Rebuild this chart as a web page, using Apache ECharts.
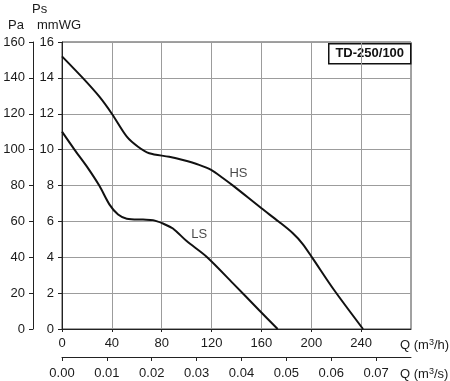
<!DOCTYPE html>
<html>
<head>
<meta charset="utf-8">
<script src="https://cdn.jsdelivr.net/npm/echarts@6/dist/echarts.min.js"></script>
<style>
html,body{margin:0;padding:0;background:#fff;}
#c{width:450px;height:381px;}
</style>
</head>
<body>
<div id="c"></div>
<script>
// Tick labels
const flowTicksH = [0, 40, 80, 120, 160, 200, 240];
const flowTicksS = [0.00, 0.01, 0.02, 0.03, 0.04, 0.05, 0.06, 0.07];
const mmTicks = [0, 2, 4, 6, 8, 10, 12, 14, 16];
const paTicks = [0, 20, 40, 60, 80, 100, 120, 140, 160];

// HS curve: flow (m3/h), pressure (mmWG)
const hsFlow = [0, 17, 30, 40, 52, 61, 70, 86, 97, 110, 120, 129, 138, 160, 174, 185, 193, 201, 218, 241.5];
const hsPs   = [15.2, 13.97, 12.95, 12.0, 10.72, 10.16, 9.8, 9.6, 9.42, 9.15, 8.86, 8.42, 7.95, 6.73, 5.98, 5.35, 4.75, 3.95, 2.2, 0];

// LS curve
const lsFlow = [0, 10, 20, 30, 38, 45, 52, 65, 73, 81, 89, 100, 116, 137, 158, 173];
const lsPs   = [11.0, 10.0, 9.05, 7.98, 6.95, 6.38, 6.15, 6.1, 6.07, 5.88, 5.6, 4.9, 4.03, 2.56, 1.06, 0];

// Curve labels
const curveLabels = [
  { name: 'HS', flow: 141.6, ps: 8.67 },
  { name: 'LS', flow: 110, ps: 5.27 }
];
const modelName = 'TD-250/100';

const FONT = '"Liberation Sans", Arial, sans-serif';
const TXT = '#1a1a1a';

const zip = (a, b) => a.map((v, i) => [v, b[i]]);

const chart = echarts.init(document.getElementById('c'), null, { renderer: 'canvas' });

const supRich = { sup: { fontSize: 9, verticalAlign: 'top', padding: [0, 0, 6, 0], fontFamily: FONT, fill: TXT, color: TXT } };

chart.setOption({
  animation: false,
  backgroundColor: '#fff',
  grid: {
    left: 62, right: 39, top: 42, bottom: 52,
    containLabel: false, outerBoundsMode: 'none',
    show: true, borderColor: '#444', borderWidth: 1, backgroundColor: 'transparent'
  },
  xAxis: [
    {
      type: 'value', min: 0, max: 280, interval: 40, position: 'bottom',
      axisLine: { show: true, onZero: false, lineStyle: { color: '#222', width: 1 } },
      axisTick: { show: true, length: 3, customValues: flowTicksH, lineStyle: { color: '#222' } },
      axisLabel: { customValues: flowTicksH, margin: 8, fontSize: 13, color: TXT, fontFamily: FONT },
      splitLine: { show: true, lineStyle: { color: '#9c9c9c', width: 1 } }
    },
    {
      type: 'value', min: 0, max: 280 / 3600, interval: 0.01, position: 'bottom', offset: 28,
      axisLine: { show: true, onZero: false, lineStyle: { color: '#222', width: 1 } },
      axisTick: { show: true, length: 4, customValues: flowTicksS, lineStyle: { color: '#222' } },
      axisLabel: { customValues: flowTicksS, margin: 10, fontSize: 13, color: TXT, fontFamily: FONT,
        formatter: v => v.toFixed(2) },
      splitLine: { show: false }
    }
  ],
  yAxis: [
    {
      type: 'value', min: 0, max: 16, interval: 2, position: 'left',
      axisLine: { show: true, onZero: false, lineStyle: { color: '#222', width: 1 } },
      axisTick: { show: true, length: 4, customValues: mmTicks, lineStyle: { color: '#222' } },
      axisLabel: { customValues: mmTicks, margin: 8, fontSize: 13, color: TXT, fontFamily: FONT },
      splitLine: { show: true, lineStyle: { color: '#9c9c9c', width: 1 } }
    },
    {
      type: 'value', min: 0, max: 160, interval: 20, position: 'left', offset: 29,
      axisLine: { show: true, onZero: false, lineStyle: { color: '#222', width: 1 } },
      axisTick: { show: true, length: 4, customValues: paTicks, lineStyle: { color: '#222' } },
      axisLabel: { customValues: paTicks, margin: 8, fontSize: 13, color: TXT, fontFamily: FONT },
      splitLine: { show: false }
    }
  ],
  series: [
    {
      name: 'HS', type: 'line', xAxisIndex: 0, yAxisIndex: 0,
      data: zip(hsFlow, hsPs), showSymbol: false, symbol: 'none',
      smooth: 0.3,
      lineStyle: { color: '#111', width: 2 }, z: 5
    },
    {
      name: 'LS', type: 'line', xAxisIndex: 0, yAxisIndex: 0,
      data: zip(lsFlow, lsPs), showSymbol: false, symbol: 'none',
      smooth: 0.3,
      lineStyle: { color: '#111', width: 2 }, z: 5
    },
    {
      type: 'scatter', xAxisIndex: 0, yAxisIndex: 0, symbolSize: 0, silent: true,
      data: curveLabels.map(d => ({ value: [d.flow, d.ps], name: d.name })),
      itemStyle: { color: 'transparent' },
      label: { show: true, position: 'inside', formatter: p => p.name, fontSize: 13, color: TXT, fontFamily: FONT },
      z: 6
    }
  ],
  graphic: [
    { type: 'text', left: 32, top: 3, style: { text: 'Ps', fontSize: 13, fill: TXT, font: '13px ' + FONT } },
    { type: 'text', left: 8, top: 19, style: { text: 'Pa', fontSize: 13, fill: TXT, font: '13px ' + FONT } },
    { type: 'text', left: 37, top: 19, style: { text: 'mmWG', fontSize: 13, fill: TXT, font: '13px ' + FONT } },
    { type: 'text', left: 400, top: 338, style: { text: 'Q (m{sup|3}/h)', rich: supRich, fontSize: 13, fill: TXT, font: '13px ' + FONT } },
    { type: 'text', left: 400, top: 367, style: { text: 'Q (m{sup|3}/s)', rich: supRich, fontSize: 13, fill: TXT, font: '13px ' + FONT } },
    {
      type: 'group', left: 328, top: 43,
      children: [
        { type: 'rect', shape: { x: 0, y: 0, width: 82, height: 20 }, style: { fill: '#fff', stroke: '#111', lineWidth: 1.5 } },
        { type: 'text', style: { x: 41, y: 10, text: modelName, align: 'center', verticalAlign: 'middle', fill: '#111', font: 'bold 13px ' + FONT } }
      ]
    }
  ]
});
</script>
</body>
</html>
